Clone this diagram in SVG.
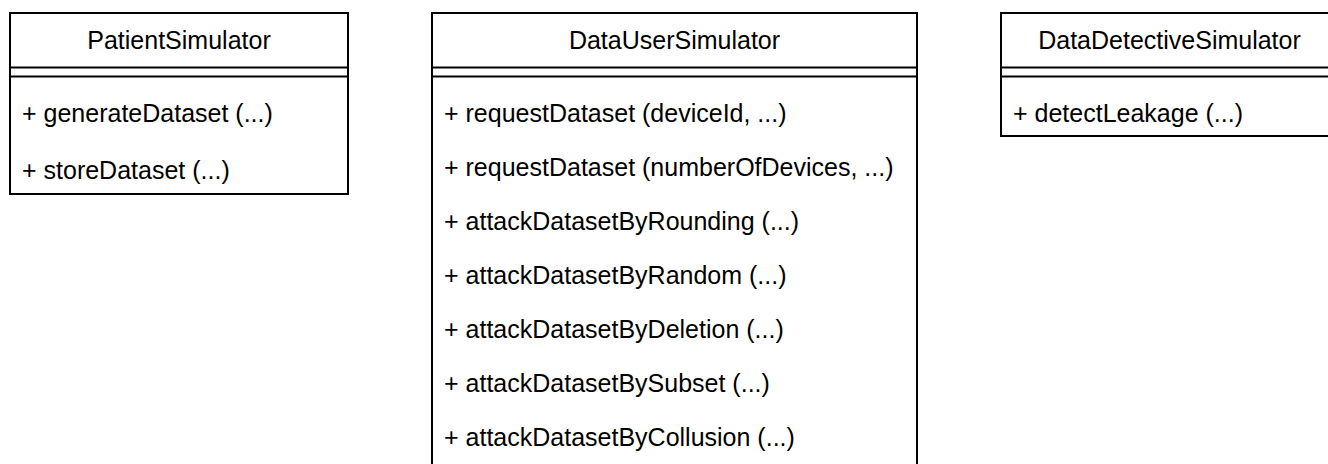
<svg xmlns="http://www.w3.org/2000/svg" width="1328" height="464" viewBox="0 0 1328 464">
  <style>
    .box { fill: #ffffff; stroke: #000000; stroke-width: 2; }
    .sep { stroke: #000000; stroke-width: 2; fill: none; }
    .title { font-family: "Liberation Sans", Arial, sans-serif; font-size: 25px; fill: #000000; text-anchor: middle; }
    .op { font-family: "Liberation Sans", Arial, sans-serif; font-size: 25px; fill: #000000; }
  </style>
  <rect width="1328" height="464" fill="#ffffff"/>

  <!-- class: PatientSimulator -->
  <g id="patient-simulator">
    <rect class="box" x="10" y="13" width="338" height="181"/>
    <line class="sep" x1="10" y1="67.5" x2="348" y2="67.5"/>
    <line class="sep" x1="10" y1="76.5" x2="348" y2="76.5"/>
    <text class="title" x="179" y="49">PatientSimulator</text>
    <text class="op" x="22" y="122">+ generateDataset (...)</text>
    <text class="op" x="22" y="179">+ storeDataset (...)</text>
  </g>

  <!-- class: DataUserSimulator -->
  <g id="data-user-simulator">
    <rect class="box" x="432" y="13" width="485" height="480"/>
    <line class="sep" x1="432" y1="67.5" x2="917" y2="67.5"/>
    <line class="sep" x1="432" y1="76.5" x2="917" y2="76.5"/>
    <text class="title" x="674.5" y="49">DataUserSimulator</text>
    <text class="op" x="444" y="122">+ requestDataset (deviceId, ...)</text>
    <text class="op" x="444" y="176">+ requestDataset (numberOfDevices, ...)</text>
    <text class="op" x="444" y="230">+ attackDatasetByRounding (...)</text>
    <text class="op" x="444" y="284">+ attackDatasetByRandom (...)</text>
    <text class="op" x="444" y="338">+ attackDatasetByDeletion (...)</text>
    <text class="op" x="444" y="392">+ attackDatasetBySubset (...)</text>
    <text class="op" x="444" y="446">+ attackDatasetByCollusion (...)</text>
  </g>

  <!-- class: DataDetectiveSimulator -->
  <g id="data-detective-simulator">
    <rect class="box" x="1001" y="13" width="337" height="123"/>
    <line class="sep" x1="1001" y1="67.5" x2="1338" y2="67.5"/>
    <line class="sep" x1="1001" y1="76.5" x2="1338" y2="76.5"/>
    <text class="title" x="1169.5" y="49">DataDetectiveSimulator</text>
    <text class="op" x="1013" y="122">+ detectLeakage (...)</text>
  </g>

  <!-- no associations between the classes -->
  <g id="connectors"/>
</svg>
